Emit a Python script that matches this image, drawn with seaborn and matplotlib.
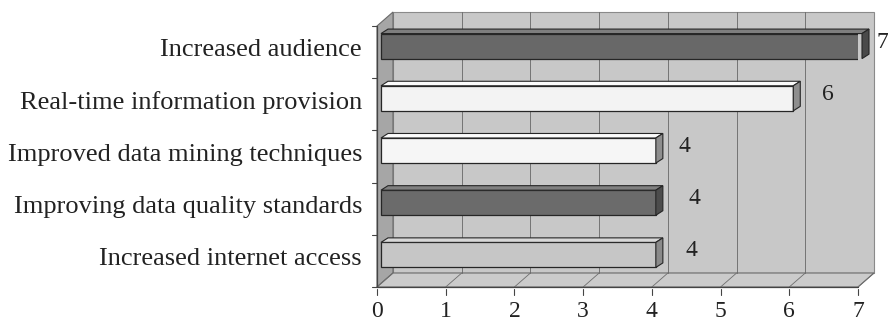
import numpy as np
import pandas as pd
import seaborn as sns
import matplotlib
matplotlib.use("Agg")
import matplotlib.pyplot as plt
from matplotlib.patches import Polygon
from matplotlib.lines import Line2D
from matplotlib.transforms import IdentityTransform, ScaledTranslation

# ---- data ---------------------------------------------------------------
categories = [
    "Increased audience",
    "Real-time information provision",
    "Improved data mining techniques",
    "Improving data quality standards",
    "Increased internet access",
]
values = [7, 6, 4, 4, 4]
x_ticks = [0, 1, 2, 3, 4, 5, 6, 7]

# ---- style --------------------------------------------------------------
front_colors = ["#686868", "#f3f3f3", "#f6f6f6", "#6b6b6b", "#c6c6c6"]
top_colors = ["#7e7e7e", "#fbfbfb", "#fbfbfb", "#808080", "#d8d8d8"]
side_colors = ["#4a4a4a", "#8e8e8e", "#8e8e8e", "#4c4c4c", "#8a8a8a"]
label_nudge_px = [24, 39, 33, 43, 40]   # horizontal spacing of value labels

DPI = 100
W, H = 888, 322
sns.set_theme(style="white")
plt.rcParams["font.family"] = ["Liberation Serif", "DejaVu Serif"]
FS_CAT = 19
FS_NUM = 17

fig = plt.figure(figsize=(W / DPI, H / DPI), dpi=DPI)
fig.patch.set_facecolor("white")

# front plane of the 3-D box (pixel frame)
left_px, right_px, top_px, bottom_px = 377, 858, 26, 287
ax = fig.add_axes([left_px / W, (H - bottom_px) / H,
                   (right_px - left_px) / W, (bottom_px - top_px) / H])
ax.patch.set_visible(False)
for s in ax.spines.values():
    s.set_visible(False)

df = pd.DataFrame({"reason": categories, "count": values})
sns.barplot(data=df, x="count", y="reason", hue="reason", palette=front_colors,
            orient="h", width=0.48, legend=False, ax=ax,
            edgecolor="#262626", linewidth=0.9, zorder=6)
bars = list(ax.patches)

n = len(categories)
ax.set_xlim(0, 7)
ax.set_ylim(n - 0.5, -0.5)
fig.canvas.draw()

DEPTH = np.array([16.0, 14.0])      # depth of the box (display px, up = +)
BAR_SHIFT = np.array([4.0, 6.0])    # bars sit inside the box depth
BAR_DEPTH = np.array([7.0, 4.5])    # thickness of each bar


def px(x, y):
    return np.array(ax.transData.transform((x, y)), dtype=float)


def face(pts, fc, z, ec="#3a3a3a", lw=0.7):
    p = Polygon(np.array(pts), closed=True, facecolor=fc, edgecolor=ec,
                linewidth=lw, transform=IdentityTransform(), zorder=z,
                clip_on=False)
    ax.add_patch(p)


def seg(a, b, color="#505050", lw=0.7, z=2):
    ln = Line2D([a[0], b[0]], [a[1], b[1]], color=color, linewidth=lw,
                transform=IdentityTransform(), zorder=z, clip_on=False)
    ax.add_line(ln)


y_top, y_bot = -0.5, n - 0.5
tl, tr, br, bl = px(0, y_top), px(7, y_top), px(7, y_bot), px(0, y_bot)

# walls and floor
face([tl + DEPTH, tr + DEPTH, br + DEPTH, bl + DEPTH], "#c8c8c8", 0.5,
     ec="#8a8a8a", lw=0.8)
face([tl, tl + DEPTH, bl + DEPTH, bl], "#a6a6a6", 0.6, ec="#6a6a6a", lw=0.8)
face([bl, br, br + DEPTH, bl + DEPTH], "#cbcbcb", 0.6, ec="#6a6a6a", lw=0.8)

# gridlines on the back wall and floor
for v in x_ticks:
    f = px(v, y_bot)
    if 0 < v < 7:
        seg(px(v, y_top) + DEPTH, f + DEPTH, color="#666666", lw=0.6, z=1)
    seg(f, f + DEPTH, color="#6e6e6e", lw=0.6, z=1)

# front axis lines and tick marks
seg(tl, bl, color="#444444", lw=0.9, z=3)
seg(bl, br, color="#444444", lw=0.9, z=3)
for k in range(n + 1):
    p = px(0, k - 0.5)
    seg(p, p + np.array([-5.0, 0.0]), color="#444444", lw=0.8, z=3)
for v in x_ticks:
    p = px(v, y_bot)
    seg(p + np.array([0, -2.0]), p + np.array([0, -8.0]),
        color="#444444", lw=0.8, z=3)

# 3-D bars: shift the front faces, then add top and side faces
shift = ScaledTranslation(BAR_SHIFT[0] / DPI, BAR_SHIFT[1] / DPI,
                          fig.dpi_scale_trans)
for bar in bars:
    i = int(round(bar.get_y() + bar.get_height() / 2))
    bar.set_transform(ax.transData + shift)
    x0, y0 = bar.get_x(), bar.get_y()
    x1, y1 = x0 + bar.get_width(), y0 + bar.get_height()
    ftl = px(x0, y0) + BAR_SHIFT
    ftr = px(x1, y0) + BAR_SHIFT
    fbr = px(x1, y1) + BAR_SHIFT
    face([ftl, ftr, ftr + BAR_DEPTH, ftl + BAR_DEPTH], top_colors[i], 6,
         ec="#262626", lw=0.8)
    face([ftr, fbr, fbr + BAR_DEPTH, ftr + BAR_DEPTH], side_colors[i], 6,
         ec="#262626", lw=0.8)

# value labels
for i, v in enumerate(values):
    t = ax.transData + ScaledTranslation(label_nudge_px[i] / DPI, 10 / DPI,
                                         fig.dpi_scale_trans)
    ax.text(v, i, f"{v}", transform=t, ha="center", va="center",
            fontsize=FS_NUM, color="#222222", zorder=8, clip_on=False)

# category labels
ax.set_yticks([])
ax.set_ylabel("")
for i, c in enumerate(categories):
    t = ax.get_yaxis_transform() + ScaledTranslation(-15 / DPI, 2 / DPI,
                                                       fig.dpi_scale_trans)
    ax.text(0, i, c, transform=t, ha="right", va="center",
            fontsize=FS_CAT, color="#222222", clip_on=False)

# value axis labels
ax.set_xticks(x_ticks)
ax.set_xticklabels([str(v) for v in x_ticks], fontsize=FS_NUM, color="#222222")
ax.tick_params(axis="x", length=0, pad=10)
ax.set_xlabel("")

fig.savefig("out.png", dpi=DPI, facecolor="white")
